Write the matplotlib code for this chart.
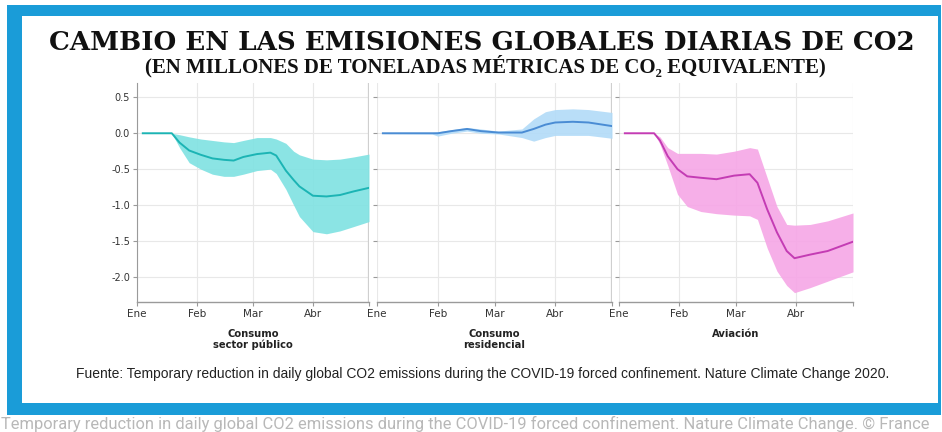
import matplotlib
matplotlib.use("Agg")
import matplotlib.pyplot as plt
from matplotlib.patches import Rectangle

plt.rcParams["axes.unicode_minus"] = False
plt.rcParams["font.family"] = ["DejaVu Sans"]

# Days since 1 January 2020
month_ticks = [0, 31, 60, 91]
month_labels = ["Ene", "Feb", "Mar", "Abr"]
y_ticks = [0.5, 0.0, -0.5, -1.0, -1.5, -2.0]

# Consumo sector público
pub_days = [3, 18, 22, 27, 33, 39, 45, 50, 55, 62, 69, 72, 77, 81, 84, 91, 98, 105, 112, 120]
pub_mid = [0, 0, -0.13, -0.24, -0.30, -0.35, -0.37, -0.38, -0.33, -0.29, -0.27, -0.31,
           -0.52, -0.65, -0.74, -0.87, -0.88, -0.86, -0.81, -0.76]
pub_hi = [0, 0, -0.02, -0.05, -0.08, -0.10, -0.12, -0.13, -0.10, -0.06, -0.06, -0.08,
          -0.14, -0.25, -0.30, -0.36, -0.37, -0.36, -0.33, -0.29]
pub_lo = [0, 0, -0.20, -0.41, -0.50, -0.57, -0.60, -0.60, -0.57, -0.52, -0.50, -0.56,
          -0.78, -1.00, -1.16, -1.37, -1.40, -1.36, -1.30, -1.23]

# Consumo residencial
res_days = [3, 28, 31, 38, 46, 53, 62, 74, 80, 86, 91, 100, 108, 120]
res_mid = [0, 0, 0, 0.03, 0.06, 0.03, 0.01, 0.01, 0.06, 0.12, 0.15, 0.16, 0.15, 0.10]
res_hi = [0.005, 0.01, 0.02, 0.05, 0.08, 0.06, 0.03, 0.06, 0.20, 0.30, 0.33, 0.34, 0.33, 0.29]
res_lo = [-0.005, -0.01, -0.04, 0.0, 0.03, 0.0, -0.01, -0.06, -0.11, -0.06, -0.03, -0.03, -0.03, -0.07]

# Aviación
avi_days = [3, 18, 21, 25, 30, 35, 42, 50, 59, 67, 71, 76, 81, 86, 90, 98, 107, 120]
avi_mid = [0, 0, -0.10, -0.32, -0.50, -0.60, -0.62, -0.64, -0.59, -0.57, -0.69, -1.06,
           -1.38, -1.64, -1.74, -1.69, -1.64, -1.51]
avi_hi = [0, 0, -0.05, -0.20, -0.28, -0.28, -0.28, -0.29, -0.25, -0.20, -0.22, -0.62,
          -1.02, -1.27, -1.28, -1.27, -1.22, -1.11]
avi_lo = [0, 0, -0.15, -0.45, -0.85, -1.02, -1.09, -1.12, -1.14, -1.15, -1.20, -1.60,
          -1.92, -2.12, -2.22, -2.15, -2.06, -1.93]

panels = [
    ("Consumo\nsector público", pub_days, pub_mid, pub_hi, pub_lo, "#1cb4b4", "#7fe2e2"),
    ("Consumo\nresidencial", res_days, res_mid, res_hi, res_lo, "#4a8cd4", "#b2dbf8"),
    ("Aviación", avi_days, avi_mid, avi_hi, avi_lo, "#c43cb4", "#f6a6e6"),
]

W, H = 942, 432
fig = plt.figure(figsize=(W / 100, H / 100), dpi=100)
fig.patch.set_facecolor("white")


def px_rect(x0, y0, x1, y1):
    """Rectangle in pixel coordinates (top-left origin) -> figure fraction."""
    return (x0 / W, 1 - y1 / H, (x1 - x0) / W, (y1 - y0) / H)


# blue frame and inner white card, drawn on a background axes
bg = fig.add_axes([0, 0, 1, 1], zorder=-10)
bg.set_xlim(0, W)
bg.set_ylim(H, 0)
bg.axis("off")
bg.add_patch(Rectangle((7, 5), 934, 410, facecolor="#1a9cd8", edgecolor="none"))
bg.add_patch(Rectangle((22, 16), 916, 387, facecolor="white", edgecolor="none"))

axes_px = [(137, 369), (377, 612), (619, 853)]
y_top, y_bot = 83, 302

for i, ((label, days, mid, hi, lo, lc, fc), (x0, x1)) in enumerate(zip(panels, axes_px)):
    ax = fig.add_axes(px_rect(x0, y_top, x1, y_bot), zorder=1)
    ax.set_facecolor("none")
    ax.set_xlim(0, 120)
    ax.set_ylim(-2.35, 0.7)
    ax.fill_between(days, lo, hi, color=fc, alpha=0.9, lw=0, zorder=2)
    ax.plot(days, mid, color=lc, lw=1.4, zorder=3)

    ax.set_xticks(month_ticks + [120])
    ax.set_xticklabels(month_labels + [""], fontsize=7.5, color="#333333")
    ax.set_yticks(y_ticks)
    if i == 0:
        ax.set_yticklabels([f"{v:.1f}" for v in y_ticks], fontsize=7, color="#333333")
    else:
        ax.set_yticklabels([])
        ax.tick_params(axis="y", length=0)
    ax.grid(True, color="#e8e8e8", lw=0.8, zorder=0)
    ax.set_axisbelow(True)
    for s in ("top", "right"):
        ax.spines[s].set_visible(False)
    ax.spines["left"].set_visible(i == 0)
    ax.spines["left"].set_color("#9a9a9a")
    ax.spines["bottom"].set_color("#9a9a9a")
    ax.spines["bottom"].set_linewidth(1.0)
    ax.tick_params(axis="both", colors="#9a9a9a", labelcolor="#333333", length=3, width=0.8, pad=2)
    if i < 2:
        ax.axvline(120, color="#cfcfcf", lw=1.6, zorder=1)
    ax.text(0.5, -0.125, label, transform=ax.transAxes, ha="center", va="top",
            fontsize=7.2, fontweight="bold", color="#222222", linespacing=1.05)

fig.text(482 / W, 1 - 42 / H, "CAMBIO EN LAS EMISIONES GLOBALES DIARIAS DE CO2",
         ha="center", va="center", fontsize=18.8, fontweight="heavy",
         family="DejaVu Serif", color="#111111")
fig.text(485 / W, 1 - 66.5 / H, "(EN MILLONES DE TONELADAS MÉTRICAS DE CO₂ EQUIVALENTE)",
         ha="center", va="center", fontsize=15, fontweight="bold",
         family="Liberation Serif", color="#111111")
fig.text(483 / W, 1 - 374 / H,
         "Fuente: Temporary reduction in daily global CO2 emissions during the COVID-19 "
         "forced confinement. Nature Climate Change 2020.",
         ha="center", va="center", fontsize=10, color="#222222", family="Liberation Sans")
fig.text(1 / W, 1 - 424 / H,
         "Temporary reduction in daily global CO2 emissions during the COVID-19 forced "
         "confinement. Nature Climate Change. © France",
         ha="left", va="center", fontsize=11.9, color="#b8b8b8", family="Roboto")

fig.savefig("out.png", dpi=100)
